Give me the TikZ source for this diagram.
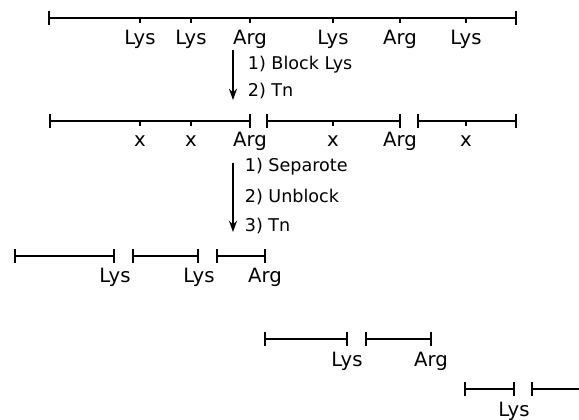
\documentclass[tikz,border=0pt]{standalone}
\usepackage{fontspec}
\setmainfont{DejaVu Sans}
\usetikzlibrary{arrows.meta}

\begin{document}
\begin{tikzpicture}[x=0.25mm, y=-0.25mm, line width=1.2pt,
    seg/.style={{Bar[width=3.3mm]}-{Bar[width=3.3mm]}},
    segopen/.style={{Bar[width=3.3mm]}-},
    res/.style={font=\fontsize{14}{16}\selectfont, anchor=base, inner sep=0pt},
    stepnote/.style={font=\fontsize{12.5}{15}\selectfont, anchor=base west, inner sep=0pt},
    cut/.style={-{Stealth[length=2.8mm,width=2mm]}, line width=1pt}]
  \useasboundingbox (0,0) rectangle (579,420);

  % intact chain
  \draw[seg] (48,18) -- (517,18);
  \foreach \x in {140,191,250,333,400,466} \draw (\x,18) -- ++(0,5);
  \node[res] (lysA) at (140,45) {Lys};
  \node[res] (lysB) at (191,45) {Lys};
  \node[res] (argA) at (250,45) {Arg};
  \node[res] (lysC) at (333,45) {Lys};
  \node[res] (argB) at (400,45) {Arg};
  \node[res] (lysD) at (466,45) {Lys};

  % first cleavage
  \coordinate (cutA) at (233,50);
  \coordinate (cutAend) at (233,100);
  \draw[cut] (cutA) -- (cutAend);
  \node[stepnote] (blockstep) at (247,70) {1) Block Lys};
  \node[stepnote] (tnstepA) at (247,97) {2) Tn};

  % Arg fragments, Lys blocked
  \draw[seg] (49,121) -- (251,121);
  \draw[seg] (266,121) -- (401,121);
  \draw[seg] (417,121) -- (517,121);
  \foreach \x in {140,191,333,466} \draw (\x,121) -- ++(0,5);
  \node[res] (blkA) at (140,147) {x};
  \node[res] (blkB) at (191,147) {x};
  \node[res] (argC) at (250,147) {Arg};
  \node[res] (blkC) at (333,147) {x};
  \node[res] (argD) at (400,147) {Arg};
  \node[res] (blkD) at (466,147) {x};

  % second cleavage
  \coordinate (cutB) at (233,163);
  \coordinate (cutBend) at (233,232);
  \draw[cut] (cutB) -- (cutBend);
  \node[stepnote] (sepstep) at (244,172) {1) Separote};
  \node[stepnote] (unblstep) at (244,203) {2) Unblock};
  \node[stepnote] (tnstepB) at (244,232) {3) Tn};

  % fragments of the first piece
  \draw[seg] (14,256) -- (115,256);
  \draw[seg] (132,256) -- (199,256);
  \draw[seg] (216,256) -- (266,256);
  \node[res] (lysE) at (115,283) {Lys};
  \node[res] (lysF) at (199,283) {Lys};
  \node[res] (argE) at (265,283) {Arg};

  % fragments of the second piece
  \draw[seg] (264,339) -- (348,339);
  \draw[seg] (365,339) -- (432,339);
  \node[res] (lysG) at (347,366) {Lys};
  \node[res] (argF) at (431,366) {Arg};

  % fragments of the third piece
  \draw[seg] (464,389) -- (515,389);
  \draw[segopen] (531,389) -- (579,389);
  \node[res] (lysH) at (514,417) {Lys};
\end{tikzpicture}
\end{document}
